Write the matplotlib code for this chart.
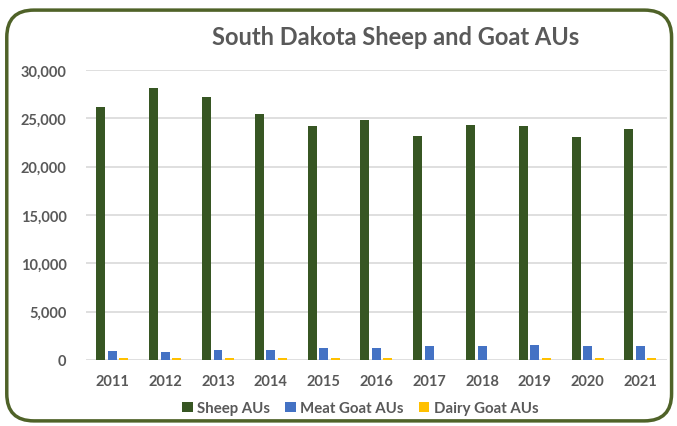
import matplotlib
matplotlib.use("Agg")
import matplotlib.pyplot as plt
import numpy as np
from matplotlib.patches import FancyBboxPatch

years = ["2011", "2012", "2013", "2014", "2015", "2016", "2017", "2018", "2019", "2020", "2021"]
sheep = [26200, 28100, 27200, 25500, 24200, 24800, 23200, 24300, 24200, 23100, 23900]
meat_goat = [960, 800, 1030, 1030, 1240, 1200, 1410, 1410, 1520, 1410, 1410]
dairy_goat = [240, 170, 240, 240, 240, 240, 0, 0, 170, 170, 170]
series_names = ["Sheep AUs", "Meat Goat AUs", "Dairy Goat AUs"]
colors = ["#375623", "#4472C4", "#FFC000"]

plt.rcParams['font.family'] = ['Lato', 'DejaVu Sans']

fig = plt.figure(figsize=(6.77, 4.27), dpi=100)
ax = fig.add_axes([0.127, 0.1546, 0.858, 0.6791])

x = np.arange(len(years))
w = 0.17
off = 0.218
for i, (vals, name, c) in enumerate(zip([sheep, meat_goat, dairy_goat], series_names, colors)):
    ax.bar(x + (i - 1) * off, vals, width=w, color=c, label=name, zorder=3)

ax.set_ylim(0, 30000)
ax.set_xlim(-0.5, len(years) - 0.5)
ax.set_yticks(np.arange(0, 30001, 5000))
ax.set_yticklabels([f"{v:,}" for v in range(0, 30001, 5000)])
ax.set_xticks(x)
ax.set_xticklabels(years)
ax.grid(axis='y', color='#d9d9d9', linewidth=1.2, zorder=0)
for s in ax.spines.values():
    s.set_visible(False)
ax.tick_params(axis='both', length=0, labelsize=10.5, labelcolor='#595959')
ax.tick_params(axis='x', pad=10)
ax.tick_params(axis='y', pad=14)
for lab in ax.get_xticklabels() + ax.get_yticklabels():
    lab.set_fontweight('bold')

fig.text(0.584, 0.913, "South Dakota Sheep and Goat AUs", ha='center', va='center',
         fontsize=17, fontweight='bold', color='#595959')

leg = fig.legend(loc='center', bbox_to_anchor=(0.532, 0.042), ncol=3, frameon=False,
                 fontsize=10.8, handlelength=0.7, handleheight=0.7, handletextpad=0.3,
                 columnspacing=1.0)
for t in leg.get_texts():
    t.set_color('#595959')
    t.set_fontweight('bold')

border = FancyBboxPatch((0.01, 0.012), 0.982, 0.962, boxstyle="round,pad=0,rounding_size=0.04",
                        transform=fig.transFigure, facecolor='none', edgecolor='#4f6228',
                        linewidth=2.5, mutation_aspect=677/427)
fig.patches.append(border)

fig.savefig("out.png", dpi=100)
